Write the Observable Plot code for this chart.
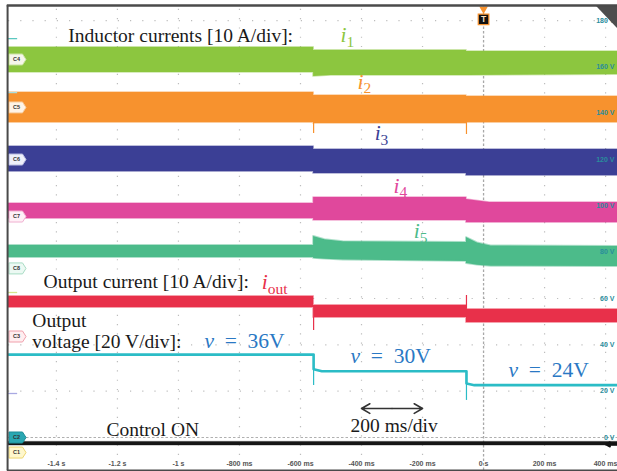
<!DOCTYPE html>
<html><head><meta charset="utf-8">
<script src="https://cdn.jsdelivr.net/npm/d3@7"></script>
<script src="https://cdn.jsdelivr.net/npm/@observablehq/plot@0.6"></script>
<style>body{margin:0;background:#fff}</style>
</head><body><div id="chart"></div>
<script>
// ---- data (time in ms, level in on-screen volts) ----
const tStart = -1557, tEnd = 439;
const timeTicks = [-1400, -1200, -1000, -800, -600, -400, -200, 0, 200, 400];
const timeLabels = ["-1.4 s", "-1.2 s", "-1 s", "-800 ms", "-600 ms", "-400 ms", "-200 ms", "0 s", "200 ms", "400 ms"];
const voltTicks = [0, 20, 40, 60, 80, 100, 120, 140, 160, 180];
const voltLabels = ["0 V", "20 V", "40 V", "60 V", "80 V", "100 V", "120 V", "140 V", "160 V", "180 V"];

const i1Time = [-1557, -557, -557, -500, -56, -56, 439];
const i1Hi   = [168.4, 168.4, 167.1, 167.1, 167.1, 166.6, 166.6];
const i1Lo   = [157.6, 157.6, 155.9, 156.3, 156.3, 156.3, 156.7];

const i2Time = [-1557, -557, -557, -56, -56, 439];
const i2Hi   = [148.9, 148.9, 147.6, 147.6, 147.2, 147.2];
const i2Lo   = [136.0, 136.0, 135.6, 135.6, 136.0, 136.0];

const i3Time = [-1557, -557, -557, -56, -56, 439];
const i3Hi   = [125.6, 125.6, 124.3, 124.3, 124.3, 124.3];
const i3Lo   = [114.8, 114.8, 114.0, 114.0, 113.1, 113.1];

const i4Time = [-1557, -557, -557, -56, -56, 20, 439];
const i4Hi   = [101.0, 101.0, 103.6, 103.6, 102.7, 101.4, 101.4];
const i4Lo   = [94.5, 94.5, 93.7, 93.7, 92.8, 92.8, 92.8];

const i5Time = [-1557, -557, -557, -520, -460, -56, -56, -20, 25, 439];
const i5Hi   = [82.9, 82.9, 86.8, 85.4, 84.5, 84.2, 86.3, 84.0, 82.7, 82.5];
const i5Lo   = [77.7, 77.7, 77.3, 77.0, 76.6, 76.0, 75.1, 74.4, 73.9, 73.8];

const ioTime = [-1557, -557, -557, -56, -56, 439];
const ioHi   = [60.9, 60.9, 57.0, 57.0, 55.3, 55.3];
const ioLo   = [56.1, 56.1, 51.8, 51.8, 49.6, 49.6];

const vTime  = [-1557, -557, -557, -530, -56, -56, -30, 439];
const vLevel = [35.8, 35.8, 29.5, 28.6, 28.6, 23.3, 22.6, 22.6];

const ctrlTime = [-1557, 439];
const ctrlHi = [-1.9, -1.9];
const ctrlLo = [-3.4, -3.4];

const spikeTime = [-557, -557, -557, -56, -56, -56];
const spikeFrom = [136.0, 51.8, 35.8, 136.0, 55.3, 28.6];
const spikeTo   = [131.2, 46.2, 22.4, 130.8, 61.3, 16.0];
const spikeChan = ["i2", "iout", "v", "i2", "iout", "v"];

const tagNames  = ["C4", "C5", "C6", "C7", "C8", "C3", "C2", "C1"];
const tagLevels = [163.2, 142.5, 120.0, 95.4, 73.0, 43.6, 0, -6.5];

const gndLevels = [172.2, 148.9, 62.6, 19.0];

const noteText = ["Inductor currents [10 A/div]:", "Output current [10 A/div]:", "Output",
  "voltage [20 V/div]:", "200 ms/div", "Control ON"];
const noteTime  = [-1361, -1442, -1479, -1479, -436, -1236];
const noteLevel = [173.5, 67.3, 50.5, 41.4, 5.2, 3.5];

const mathText  = ["i_1", "i_2", "i_3", "i_4", "i_5", "i_out", "v = 36V", "v = 30V", "v = 24V"];
const mathTime  = [-469, -413, -357, -295, -229, -727, -915, -436, 82];
const mathLevel = [173.7, 153.5, 131.2, 108.6, 88.9, 67.0, 41.6, 35.2, 29.1];
const mathChan  = ["i1", "i2", "i3", "i4", "i5", "iout", "vl", "vl", "vl"];

const divArrowFrom = -400, divArrowTo = -200, divArrowLevel = 12.5;
const trigTime = 0;
const cornerTime = [370.5, 439];
const cornerHi = [186.1, 186.1];
const cornerLo = [186.1, 176.6];

// ---- styles ----
const colors = {i1: "#8cc63f", i2: "#f7922e", i3: "#3b3f95", i4: "#e0489c", i5: "#4cbb8a",
  iout: "#e8304a", v: "#2bbcc6", k: "#1a1a1a", vl: "#2a78c4"};
const tagFill = ["#f6f6ea", "#fff3e6", "#eef0fa", "#fff0f7", "#ecf9f3", "#ffeef0", "#2aa7b2", "#fff7cc"];
const tagStroke = ["#c8e2a0", "#f6c896", "#b8bce0", "#f0b0d0", "#a8dcc4", "#f0a0ac", "#1c8d97", "#eed670"];
const gndColors = ["#5cc8c0", "#a8dede", "#d6e68c", "#a9a9e2"];

const band = (t, lo, hi) => t.map((d, i) => ({t: d, lo: lo[i], hi: hi[i]}));
const bands = [
  ["i1", band(i1Time, i1Lo, i1Hi)], ["i2", band(i2Time, i2Lo, i2Hi)], ["i3", band(i3Time, i3Lo, i3Hi)],
  ["i4", band(i4Time, i4Lo, i4Hi)], ["i5", band(i5Time, i5Lo, i5Hi)], ["iout", band(ioTime, ioLo, ioHi)]
];
const vData = vTime.map((t, i) => ({t, v: vLevel[i]}));
const spikes = spikeTime.map((t, i) => ({t, a: spikeFrom[i], b: spikeTo[i], c: spikeChan[i]}));
const tags = tagNames.map((n, i) => ({n, y: tagLevels[i], i}));
const notes = noteText.map((s, i) => ({s, t: noteTime[i], y: noteLevel[i]}));
const maths = mathText.map((s, i) => ({s, t: mathTime[i], y: mathLevel[i], c: mathChan[i]}));

const tagSymbol = {draw(ctx) {
  ctx.moveTo(-8.5, -5.5); ctx.lineTo(5, -5.5); ctx.lineTo(8.5, 0); ctx.lineTo(5, 5.5);
  ctx.lineTo(-8.5, 5.5); ctx.closePath();
}};

const yTop = 186.5, yBottomEdge = -14.25, yTimeLabel = -11.2;

const marks = [
  // grid
  Plot.ruleX(timeTicks.filter(d => d !== trigTime), {x: d => d, y1: -7.77, y2: yTop, stroke: "#bdbdbd", strokeWidth: 1.2, strokeDasharray: "1.2,8.07"}),
  Plot.ruleY(voltTicks.filter(d => d !== 0), {y: d => d, x1: tStart, x2: tEnd, stroke: "#bdbdbd", strokeWidth: 1.2, strokeDasharray: "1.2,11"}),
  Plot.ruleY([0], {x1: tStart, x2: tEnd, stroke: "#b0b0b0", strokeWidth: 1, strokeDasharray: "2.5,2"}),
  Plot.ruleX([trigTime], {y1: yBottomEdge, y2: yTop, stroke: "#a8a8a8", strokeWidth: 1.3, strokeDasharray: "2.5,2"}),
  // traces
  ...bands.map(([c, d]) => Plot.areaY(d, {x: "t", y1: "lo", y2: "hi", fill: colors[c], stroke: colors[c], strokeWidth: 1.8, strokeOpacity: 0.45})),
  Plot.ruleX(spikes, {x: "t", y1: "a", y2: "b", stroke: d => colors[d.c], strokeWidth: 1.2}),
  Plot.line(vData, {x: "t", y: "v", stroke: colors.v, strokeWidth: 2.6}),
  Plot.areaY(band(ctrlTime, ctrlLo, ctrlHi), {x: "t", y1: "lo", y2: "hi", fill: "#161616", stroke: "#161616", strokeWidth: 1, strokeOpacity: 0.5}),
  // axis labels
  Plot.text(timeTicks, {x: d => d, y: yTimeLabel, text: (d, i) => timeLabels[i], fontSize: 7, fontWeight: "bold", fill: "#555", fontFamily: "Liberation Sans"}),
  Plot.text(voltTicks, {x: tEnd, dx: -3, y: d => d, text: (d, i) => voltLabels[i], textAnchor: "end", fontSize: 7, fontWeight: "bold", fill: "#2a8d9c", fontFamily: "Liberation Sans"}),
  // ground markers and channel tags
  Plot.ruleY(gndLevels, {y: d => d, x1: tStart, x2: tStart + 30, stroke: (d, i) => gndColors[i], strokeWidth: 1.3}),
  Plot.dot(tags, {x: tStart, dx: 9, y: "y", symbol: tagSymbol, fill: d => tagFill[d.i], stroke: d => tagStroke[d.i], strokeWidth: 1}),
  Plot.text(tags, {x: tStart, dx: 8, y: "y", text: "n", fontSize: 5.5, fontWeight: "bold", fill: "#333", fontFamily: "Liberation Sans"}),
  // annotations
  Plot.text(notes, {x: "t", y: "y", text: "s", textAnchor: "start", fill: colors.k, fontSize: 19.5, fontFamily: "Liberation Serif"}),
  Plot.text(maths, {x: "t", y: "y", text: "s", textAnchor: "start", fill: d => colors[d.c], fontSize: 21.5, fontFamily: "Liberation Serif"}),
  Plot.arrow([0, 1], {x1: (divArrowFrom + divArrowTo) / 2, x2: i => i ? divArrowTo : divArrowFrom, y1: divArrowLevel, y2: divArrowLevel, stroke: "#333", strokeWidth: 1.6, headLength: 9}),
  // trigger markers & frame
  Plot.dot([trigTime], {x: d => d, y: 185.0, symbol: "triangle", rotate: 180, r: 3.2, fill: "#f7922e"}),
  Plot.dot([trigTime], {x: d => d, y: 180.5, symbol: "square", r: 6, fill: "#111", stroke: "#f7922e", strokeWidth: 1.2}),
  Plot.text([trigTime], {x: d => d, y: 180.5, text: () => "T", fontSize: 8.5, fontWeight: "bold", fill: "#fbe0c0", fontFamily: "Liberation Sans"}),
  Plot.areaY(band(cornerTime, cornerLo, cornerHi), {x: "t", y1: "lo", y2: "hi", fill: "#4d4d4d"}),
  Plot.arrow([tEnd], {x1: d => d, x2: 403, y1: -3.0, y2: -3.0, stroke: "#111", strokeWidth: 2.4, headLength: 5}),
  Plot.ruleY([yTop], {x1: tStart - 4, x2: tEnd, stroke: "#4a4a4a", strokeWidth: 2.5}),
  Plot.ruleY([yBottomEdge], {x1: tStart - 4, x2: tEnd, stroke: "#4a4a4a", strokeWidth: 2}),
  Plot.ruleX([tStart - 3], {y1: yBottomEdge, y2: yTop, stroke: "#4a4a4a", strokeWidth: 2})
];

const chart = Plot.plot({
  width: 617, height: 471,
  marginLeft: 8, marginRight: 0, marginTop: 5, marginBottom: 16,
  x: {domain: [tStart, tEnd], axis: null},
  y: {domain: [-7.77, yTop], axis: null},
  style: {background: "#fff", overflow: "visible"},
  marks
});

// math-style labels: italic symbol + roman subscript, wide math spacing
d3.select(chart).selectAll("text").each(function() {
  const s = this.textContent;
  let m;
  if ((m = s.match(/^i_(.+)$/))) {
    const el = d3.select(this); el.text(null);
    el.append("tspan").attr("font-style", "italic").text("i");
    el.append("tspan").attr("font-size", "0.72em").attr("dy", "0.3em").text(m[1]);
  } else if ((m = s.match(/^v = (.*)$/))) {
    const el = d3.select(this); el.text(null);
    el.append("tspan").attr("font-style", "italic").text("v");
    el.append("tspan").text("\u2002=\u2002" + m[1]);
  }
});
document.getElementById("chart").appendChild(chart);
</script>
</body></html>
